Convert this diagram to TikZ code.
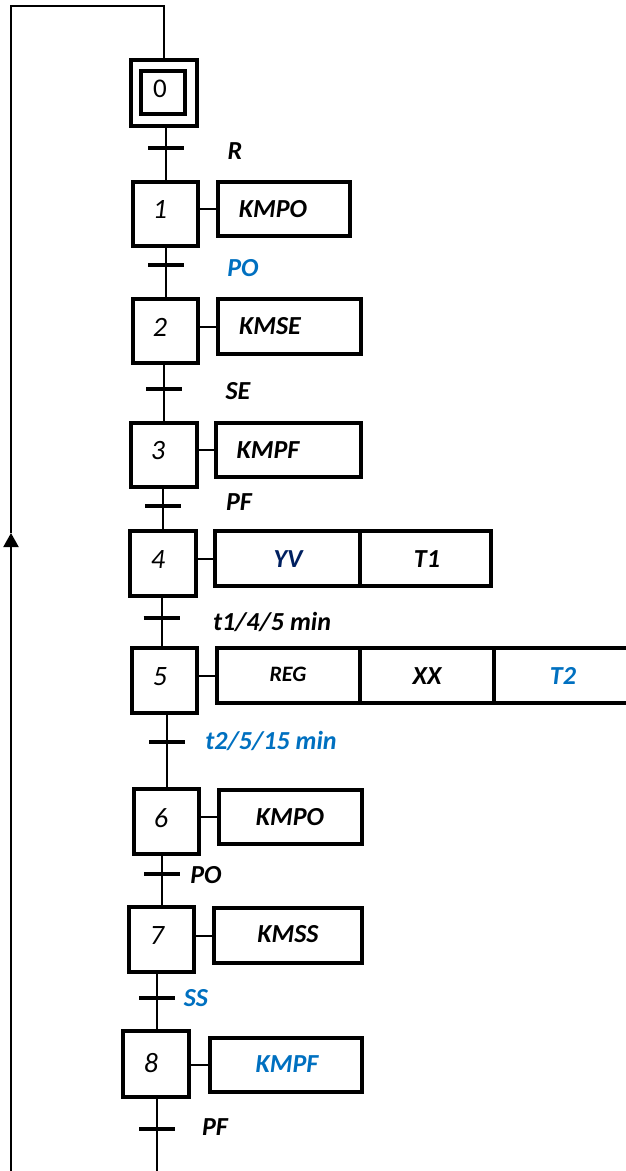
\documentclass[tikz,border=0pt]{standalone}
\usepackage{fontspec}
\setmainfont{Carlito}
\usetikzlibrary{arrows.meta}
\definecolor{wblue}{HTML}{0070C0}
\definecolor{wnavy}{HTML}{002060}
\tikzset{
  stepbox/.style={draw, line width=4pt, inner sep=0pt, outer sep=0pt},
  actbox/.style={draw, line width=4pt, inner sep=0pt, outer sep=0pt},
  steplbl/.style={inner sep=0pt, font=\fontsize{28}{32}\selectfont\itshape},
  lbl/.style={inner sep=0pt, font=\fontsize{26}{30}\selectfont\bfseries\itshape},
  smalllbl/.style={inner sep=0pt, font=\fontsize{22}{26}\selectfont\bfseries\itshape},
  link/.style={line width=2pt},
  bar/.style={line width=4pt},
}
\begin{document}
\begin{tikzpicture}[x=1pt,y=-1pt]
\useasboundingbox (0,0) rectangle (626,1171);
\clip (0,0) rectangle (626,1171);
% steps
\node[stepbox, minimum width=66pt, minimum height=66pt] (s0) at (164,93) {};
\node[stepbox, minimum width=44pt, minimum height=43pt] (s0i) at (163,92.5) {};
\node[stepbox, minimum width=65pt, minimum height=64pt] (s1) at (165.5,214) {};
\node[stepbox, minimum width=65pt, minimum height=64pt] (s2) at (165.5,331) {};
\node[stepbox, minimum width=66pt, minimum height=64pt] (s3) at (164,455) {};
\node[stepbox, minimum width=66pt, minimum height=65pt] (s4) at (163,563.5) {};
\node[stepbox, minimum width=65pt, minimum height=65pt] (s5) at (164.5,680.5) {};
\node[stepbox, minimum width=65pt, minimum height=65pt] (s6) at (166.5,821.5) {};
\node[stepbox, minimum width=65pt, minimum height=65pt] (s7) at (161.5,939.5) {};
\node[stepbox, minimum width=66pt, minimum height=66pt] (s8) at (156,1064) {};
% step labels
\node[inner sep=0pt, font=\fontsize{27}{31}\selectfont] (l0) at (160,89) {0};
\node[steplbl] (l1) at (160,209) {1};
\node[steplbl] (l2) at (160,327) {2};
\node[steplbl] (l3) at (158,451) {3};
\node[steplbl] (l4) at (158,560) {4};
\node[steplbl] (l5) at (160,677) {5};
\node[steplbl] (l6) at (161,818) {6};
\node[steplbl] (l7) at (157,936) {7};
\node[steplbl] (l8) at (151,1063) {8};
% actions
\node[actbox, minimum width=132pt, minimum height=54pt] (a1) at (284,209) {};
\node[actbox, minimum width=143pt, minimum height=55pt] (a2) at (289.5,326.5) {};
\node[actbox, minimum width=145pt, minimum height=54pt] (a3) at (288.5,450) {};
\node[actbox, minimum width=145pt, minimum height=55pt] (a4) at (287.5,558.5) {};
\node[actbox, minimum width=131pt, minimum height=55pt] (a4b) at (425.5,558.5) {};
\node[actbox, minimum width=143pt, minimum height=55pt] (a5) at (288.5,675.5) {};
\node[actbox, minimum width=134pt, minimum height=55pt] (a5b) at (427,675.5) {};
\node[actbox, minimum width=146pt, minimum height=55pt] (a5c) at (567,675.5) {};
\node[actbox, minimum width=143pt, minimum height=54pt] (a6) at (290.5,817) {};
\node[actbox, minimum width=148pt, minimum height=55pt] (a7) at (288,935.5) {};
\node[actbox, minimum width=152pt, minimum height=54pt] (a8) at (286,1065) {};
% action texts
\node[lbl] (x1) at (273,209) {KMPO};
\node[lbl] (x2) at (270,326) {KMSE};
\node[lbl] (x3) at (268,450) {KMPF};
\node[lbl, text=wnavy] (x4) at (288,559) {YV};
\node[lbl] (x4b) at (427,559) {T1};
\node[smalllbl] (x5) at (288,674) {REG};
\node[lbl] (x5b) at (427,676) {XX};
\node[lbl, text=wblue] (x5c) at (563,676) {T2};
\node[lbl] (x6) at (290,817) {KMPO};
\node[lbl] (x7) at (288,934) {KMSS};
\node[lbl, text=wblue] (x8) at (287,1064) {KMPF};
% step-action links
\foreach \s/\a in {s1/a1,s2/a2,s3/a3,s4/a4,s5/a5,s6/a6,s7/a7,s8/a8}
  \draw[link] (\a.west) -- (\a.west -| \s.east);
% transitions
\coordinate (t0) at (166,148);
\coordinate (t1) at (166,265);
\coordinate (t2) at (164,389);
\coordinate (t3) at (163,506);
\coordinate (t4) at (161.5,618);
\coordinate (t5) at (167,742);
\coordinate (t6) at (162,874);
\coordinate (t7) at (157,998);
\coordinate (t8) at (157,1129);
\coordinate (bot) at (157,1171);
\foreach \a/\t/\b in {s0/t0/s1,s1/t1/s2,s2/t2/s3,s3/t3/s4,s4/t4/s5,s5/t5/s6,s6/t6/s7,s7/t7/s8}
  \draw[link] (\a.south -| \t) -- (\t |- \b.north);
\draw[link] (s8.south -| t8) -- (bot);
\foreach \t in {t0,t1,t2,t3,t4,t5,t6,t7,t8}
  \draw[bar] ([xshift=-18pt]\t) -- ([xshift=18pt]\t);
% transition labels
\node[lbl] (r0) at (235,151) {R};
\node[lbl, text=wblue] (r1) at (243,268) {PO};
\node[lbl] (r2) at (238,391) {SE};
\node[lbl] (r3) at (239,502) {PF};
\node[lbl] (r4) at (272,622) {t1/4/5 min};
\node[lbl, text=wblue] (r5) at (271,741) {t2/5/15 min};
\node[lbl] (r6) at (206,875) {PO};
\node[lbl, text=wblue] (r7) at (196,998) {SS};
\node[lbl] (r8) at (215,1127) {PF};
% return loop
\coordinate (c1) at (164,6);
\coordinate (c2) at (11,6);
\coordinate (c3) at (11,1171);
\coordinate (atip) at (11,533);
\draw[link, -{Triangle[width=15pt,length=14pt]}] (c3) -- (atip);
\draw[link] (atip) -- (c2) -- (c1) -- (c1 |- s0.north);
\end{tikzpicture}
\end{document}
